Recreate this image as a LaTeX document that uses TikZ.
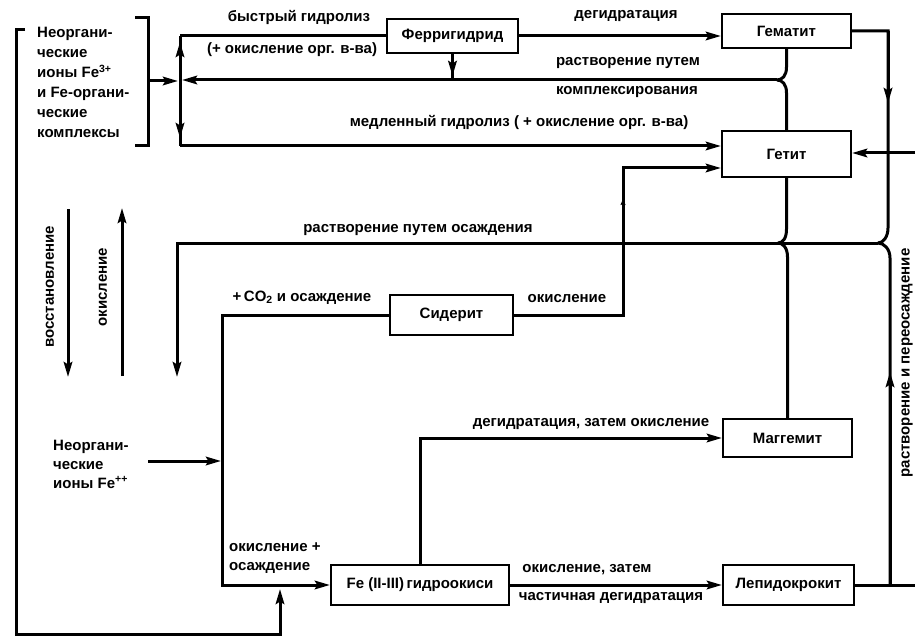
\documentclass[tikz,border=0pt]{standalone}
\usepackage{fontspec}
\setmainfont{Liberation Sans}
\usetikzlibrary{arrows.meta,calc}
\begin{document}
\begin{tikzpicture}[x=1pt,y=-1pt,
  every node/.style={font=\bfseries\fontsize{15}{18}\selectfont, inner sep=0pt},
  lbl/.style={anchor=base},
  lblw/.style={anchor=base west},
  flow/.style={line width=3pt},
  arr/.style={line width=3pt, -{Stealth[length=15pt,width=8.5pt,inset=2.5pt]}},
  tinyarr/.style={line width=3pt, -{Stealth[length=6pt,width=5pt,inset=1pt]}},
  stage/.style={draw, line width=2.2pt, inner sep=0pt},
  rot/.style={rotate=90},
]
\useasboundingbox[fill=white] (0,0) rectangle (915,639);

% mineral boxes
\node[stage, minimum width=131pt, minimum height=34pt] (ferri) at (452.5,36) {Ферригидрид};
\node[stage, minimum width=129pt, minimum height=34pt] (hem) at (786.5,31) {Гематит};
\node[stage, minimum width=129pt, minimum height=46pt] (goe) at (786.5,154) {Гетит};
\node[stage, minimum width=123pt, minimum height=40pt] (sid) at (451.5,315) {Сидерит};
\node[stage, minimum width=129pt, minimum height=38pt] (magh) at (787.5,438) {Маггемит};
\node[stage, minimum width=131pt, minimum height=40pt] (lep) at (788.5,585) {Лепидокрокит};
\node[stage, minimum width=178pt, minimum height=40pt] (fe23) at (420,585) {Fe (II-III)\,гидроокиси};

% Fe(III) source text
\node[lblw] (fe3a) at (37,38) {Неоргани-};
\node[lblw] (fe3b) at (37,58) {ческие};
\node[lblw] (fe3c) at (37,78) {ионы Fe\textsuperscript{3+}};
\node[lblw] (fe3d) at (37,98) {и Fe-органи-};
\node[lblw] (fe3e) at (37,118) {ческие};
\node[lblw] (fe3f) at (37,138) {комплексы};

% Fe(II) source text
\node[lblw] (fe2a) at (53,450) {Неоргани-};
\node[lblw] (fe2b) at (53,469) {ческие};
\node[lblw] (fe2c) at (53,488) {ионы Fe\textsuperscript{++}};

% junction points and corners
\coordinate (vtop) at (180,36);
\coordinate (vmid) at (180,81);
\coordinate (vbot) at (180,146);
\coordinate (brk) at (148,81);
\coordinate (cj) at (777,80);
\coordinate (rj) at (878,243);
\coordinate (mj) at (778,243);
\coordinate (rtop) at (888,31);
\coordinate (rlow) at (890,585);
\coordinate (edgeG) at (915,153);
\coordinate (edgeL) at (915,585);
\coordinate (pcorner) at (177,243);
\coordinate (pend) at (177,377);
\coordinate (sc) at (222,315);
\coordinate (sb) at (222,585);
\coordinate (sg) at (623,168);
\coordinate (ionsR) at (148,461);
\coordinate (ionsT) at (221,461);
\coordinate (loopA) at (25,30);
\coordinate (loopB) at (16,30);
\coordinate (loopC) at (16,634);
\coordinate (loopD) at (280,634);
\coordinate (loopE) at (280,589);

% bracket of the Fe(III) group
\draw[flow] (135,18) -- (148,18) -- (148,146) -- (135,146);
\draw[arr] (brk) -- (178,81);

% Fe(III) hydrolysis branches
\draw[flow] (vtop) -- (vbot);
\draw[arr] (vmid) -- (180,42);
\draw[arr] (vmid) -- (180,138);
\draw[flow] (vtop) -- (vtop -| ferri.west);
\draw[arr] (ferri.east) -- (ferri.east -| hem.west);
\draw[arr] (vbot) -- (vbot -| goe.west);

% dissolution by complexation
\draw[flow] (ferri.south) -- (ferri.south |- cj);
\draw[arr, shorten >=4pt] (ferri.south) -- (ferri.south |- cj);
\draw[flow] (hem.south) -- ++(0,18) .. controls +(0,9) and +(5,0) .. (cj);
\draw[flow] (goe.north) -- ++(0,-37) .. controls +(0,-9) and +(5,0) .. (cj);
\draw[arr] (cj) -- (182,80);

% right-hand side paths
\draw[flow] (hem.east) -- (rtop) -- (888,228) .. controls (888,237) and (883,243) .. (rj);
\draw[arr] (rtop) -- (888,103);
\draw[flow] (lep.east) -- (edgeL);
\draw[flow] (rlow) -- (890,258) .. controls (890,249) and (884,243) .. (rj);
\draw[arr] (rlow) -- (890,372);
\draw[arr] (edgeG) -- (edgeG -| goe.east);

% dissolution by precipitation
\draw[flow] (goe.south) -- ++(0,51) .. controls +(0,9) and +(5,0) .. (mj);
\draw[flow] (magh.north) -- ++(0,-161) .. controls +(0,-9) and +(5,0) .. (mj);
\draw[arr] (rj) -- (pcorner) -- (pend);

% Fe(II) paths
\draw[arr] (ionsR) -- (ionsT);
\draw[arr] (sid.west) -- (sc) -- (sb) -- (fe23.west);
\draw[arr] (sid.east) -| (sg) -- (sg -| goe.west);
\draw[tinyarr] (623,212) -- (623,199);
\draw[arr] (fe23.north) |- (magh.west);
\draw[arr] (fe23.east) -- (lep.west);
\draw[arr] (loopA) -- (loopB) -- (loopC) -- (loopD) -- (loopE);

% redox arrows
\draw[arr] (68,209) -- (68,377);
\draw[arr] (122,376) -- (122,208);

% labels
\node[lbl] (l1) at (299,22) {быстрый гидролиз};
\node[lbl] (l2) at (292,54) {(+ окисление орг. в-ва)};
\node[lbl] (l3) at (626,19) {дегидратация};
\node[lbl] (l4) at (628,66) {растворение путем};
\node[lbl] (l5) at (627,95) {комплексирования};
\node[lbl] (l6) at (519,127) {медленный гидролиз ( + окисление орг. в-ва)};
\node[lbl] (l7) at (418,233) {растворение путем осаждения};
\node[lbl] (l8) at (302,301) {+\,CO\textsubscript{2} и осаждение};
\node[lbl] (l9) at (567,302) {окисление};
\node[lbl] (l10) at (591,426) {дегидратация, затем окисление};
\node[lbl] (l11) at (587,572) {окисление, затем};
\node[lbl] (l12) at (611,600) {частичная дегидратация};
\node[lblw] (l13) at (229,551) {окисление +};
\node[lblw] (l13b) at (229,570) {осаждение};
\node[rot] (l14) at (50,287) {восстановление};
\node[rot] (l15) at (103,287) {окисление};
\node[rot] (l16) at (907,363) {растворение и переосаждение};
\end{tikzpicture}
\end{document}
